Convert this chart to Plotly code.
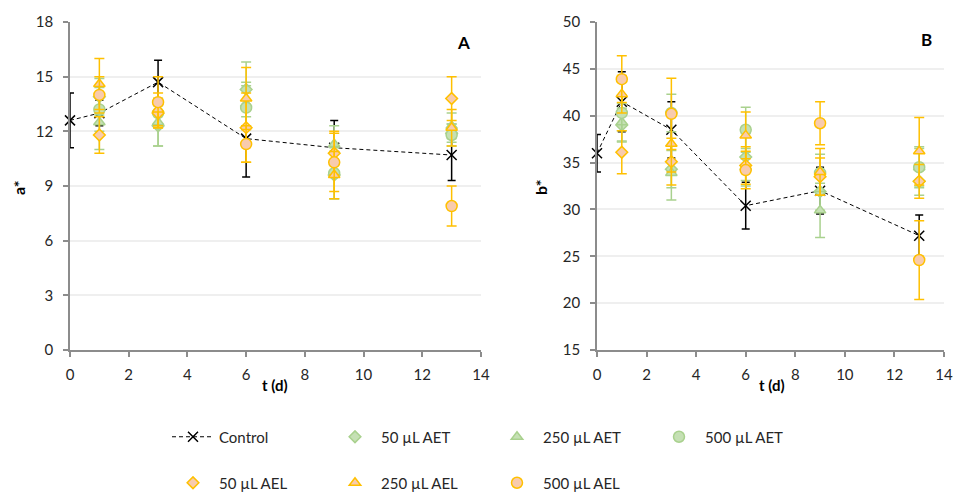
import plotly.graph_objects as go

t_control = [0, 1, 3, 6, 9, 13]
t_treat = [1, 3, 6, 9, 13]

# Panel A (a*)
a_control = [12.6, 13.0, 14.7, 11.6, 11.1, 10.7]
a_control_err = [1.5, 0.7, 1.2, 2.1, 1.5, 1.4]
a_50_aet = [13.9, 12.3, 14.3, 9.6, 11.9]
a_50_aet_err = [1.0, 1.1, 1.5, 1.3, 0.5]
a_250_aet = [12.5, 12.5, 13.5, 11.3, 12.3]
a_250_aet_err = [1.5, 1.3, 1.2, 1.0, 0.7]
a_500_aet = [13.2, 13.0, 13.3, 9.7, 11.8]
a_500_aet_err = [1.2, 0.8, 1.2, 1.4, 0.6]
a_50_ael = [11.8, 13.0, 12.2, 10.8, 13.8]
a_50_ael_err = [1.0, 0.8, 1.9, 1.2, 1.2]
a_250_ael = [14.6, 13.2, 13.8, 9.6, 12.2]
a_250_ael_err = [1.4, 0.9, 1.7, 1.3, 1.0]
a_500_ael = [14.0, 13.6, 11.3, 10.3, 7.9]
a_500_ael_err = [1.0, 1.4, 1.0, 1.6, 1.1]

# Panel B (b*)
b_control = [36.0, 41.5, 38.5, 30.4, 32.0, 27.2]
b_control_err = [2.0, 3.2, 3.0, 2.5, 2.5, 2.2]
b_50_aet = [39.0, 34.3, 35.6, 31.9, 33.0]
b_50_aet_err = [1.8, 2.0, 2.5, 2.0, 1.5]
b_250_aet = [39.3, 33.9, 34.5, 29.9, 34.5]
b_250_aet_err = [2.0, 2.9, 2.0, 2.9, 2.0]
b_500_aet = [40.3, 40.3, 38.5, 33.9, 34.5]
b_500_aet_err = [1.9, 2.0, 2.4, 2.0, 2.2]
b_50_ael = [36.1, 35.1, 34.7, 33.5, 33.0]
b_50_ael_err = [2.3, 2.5, 2.0, 2.0, 1.8]
b_250_ael = [42.3, 37.0, 37.9, 34.0, 36.2]
b_250_ael_err = [2.0, 3.0, 2.5, 2.5, 3.6]
b_500_ael = [43.9, 40.2, 34.2, 39.2, 24.6]
b_500_ael_err = [2.5, 3.8, 2.0, 2.3, 4.2]

names = ["50 µL AET", "250 µL AET", "500 µL AET", "50 µL AEL", "250 µL AEL", "500 µL AEL"]
symbols = ["diamond", "triangle-up", "circle", "diamond", "triangle-up", "circle"]
a_series = [(a_50_aet, a_50_aet_err), (a_250_aet, a_250_aet_err), (a_500_aet, a_500_aet_err),
            (a_50_ael, a_50_ael_err), (a_250_ael, a_250_ael_err), (a_500_ael, a_500_ael_err)]
b_series = [(b_50_aet, b_50_aet_err), (b_250_aet, b_250_aet_err), (b_500_aet, b_500_aet_err),
            (b_50_ael, b_50_ael_err), (b_250_ael, b_250_ael_err), (b_500_ael, b_500_ael_err)]

GREEN_FILL, GREEN_LINE = "#C5E0B4", "#A9D18E"
ORANGE_FILL, ORANGE_LINE = "#F8CBAD", "#FFC000"
FONT = "Lato"
TXT = "#262626"

fig = go.Figure()

def add_panel(xa, ya, ctrl, ctrl_err, series, show):
    fig.add_trace(go.Scatter(
        x=t_control, y=ctrl, mode="lines+markers", name="Control",
        xaxis=xa, yaxis=ya, showlegend=show, legend="legend", cliponaxis=False,
        line=dict(color="black", width=1, dash="4px,3px"),
        marker=dict(symbol="x-thin", size=10, line=dict(color="black", width=1.5)),
        error_y=dict(type="data", array=ctrl_err, color="black", thickness=1.5, width=4),
    ))
    for i, ((vals, errs), nm, sym) in enumerate(zip(series, names, symbols)):
        aet = i < 3
        fill = GREEN_FILL if aet else ORANGE_FILL
        edge = GREEN_LINE if aet else ORANGE_LINE
        size = 9 if sym == "diamond" else (11 if sym == "circle" else 10)
        fig.add_trace(go.Scatter(
            x=t_treat, y=vals, mode="markers", name=nm,
            xaxis=xa, yaxis=ya, showlegend=show, cliponaxis=False,
            legend="legend" if aet else "legend2",
            marker=dict(symbol=sym, size=size, color=fill, line=dict(color=edge, width=1.5)),
            error_y=dict(type="data", array=errs, color=edge, thickness=1.5, width=5),
        ))

add_panel("x", "y", a_control, a_control_err, a_series, True)
add_panel("x2", "y2", b_control, b_control_err, b_series, False)

W, H = 954, 494
def px(x):
    return x / W
def py(y):
    return (H - y) / H

axis_common = dict(showline=True, linecolor="#8C8C8C", linewidth=1.5, ticks="outside",
                   ticklen=5, tickcolor="#8C8C8C", tickwidth=1.5, automargin=False,
                   tickfont=dict(family=FONT, size=15, color=TXT), zeroline=False)

fig.update_layout(
    width=W, height=H, margin=dict(l=0, r=0, t=0, b=0, autoexpand=False),
    paper_bgcolor="white", plot_bgcolor="white",
    font=dict(family=FONT, size=15, color=TXT),
    xaxis=dict(domain=[px(70), px(481)], range=[0, 14], dtick=2, showgrid=False,
               anchor="y", ticklabelstandoff=5, **axis_common),
    yaxis=dict(domain=[py(350), py(22)], range=[0, 18], dtick=3, showgrid=True,
               gridcolor="#EFEFEF", gridwidth=1.5, anchor="x", ticklabelstandoff=7, **axis_common),
    xaxis2=dict(domain=[px(597), px(944)], range=[0, 14], dtick=2, showgrid=False,
                anchor="y2", ticklabelstandoff=5, **axis_common),
    yaxis2=dict(domain=[py(350), py(22)], range=[15, 50], dtick=5, showgrid=True,
                gridcolor="#EFEFEF", gridwidth=1.5, anchor="x2", ticklabelstandoff=7, **axis_common),
    legend=dict(orientation="h", x=px(167), y=py(437), xanchor="left", yanchor="middle",
                entrywidth=105, font=dict(family=FONT, size=15, color=TXT),
                bgcolor="rgba(0,0,0,0)", itemwidth=42),
    legend2=dict(orientation="h", x=px(167), y=py(483), xanchor="left", yanchor="middle",
                 entrywidth=105, font=dict(family=FONT, size=15, color=TXT),
                 bgcolor="rgba(0,0,0,0)", itemwidth=42),
)

def ann(text, x, y, size=15, angle=0):
    fig.add_annotation(text=text, x=px(x), y=py(y), xref="paper", yref="paper",
                       xanchor="center", yanchor="middle", showarrow=False, textangle=angle,
                       font=dict(family=FONT, size=size, color="black"))

ann("<b>a*</b>", 18, 188, 16, -90)
ann("<b>b*</b>", 540, 188, 16, -90)
ann("<b>t (d)</b>", 275, 385, 15)
ann("<b>t (d)</b>", 772, 385, 15)
ann("<b>A</b>", 463, 43, 17)
ann("<b>B</b>", 926, 40, 17)

fig.write_html("out.html")
